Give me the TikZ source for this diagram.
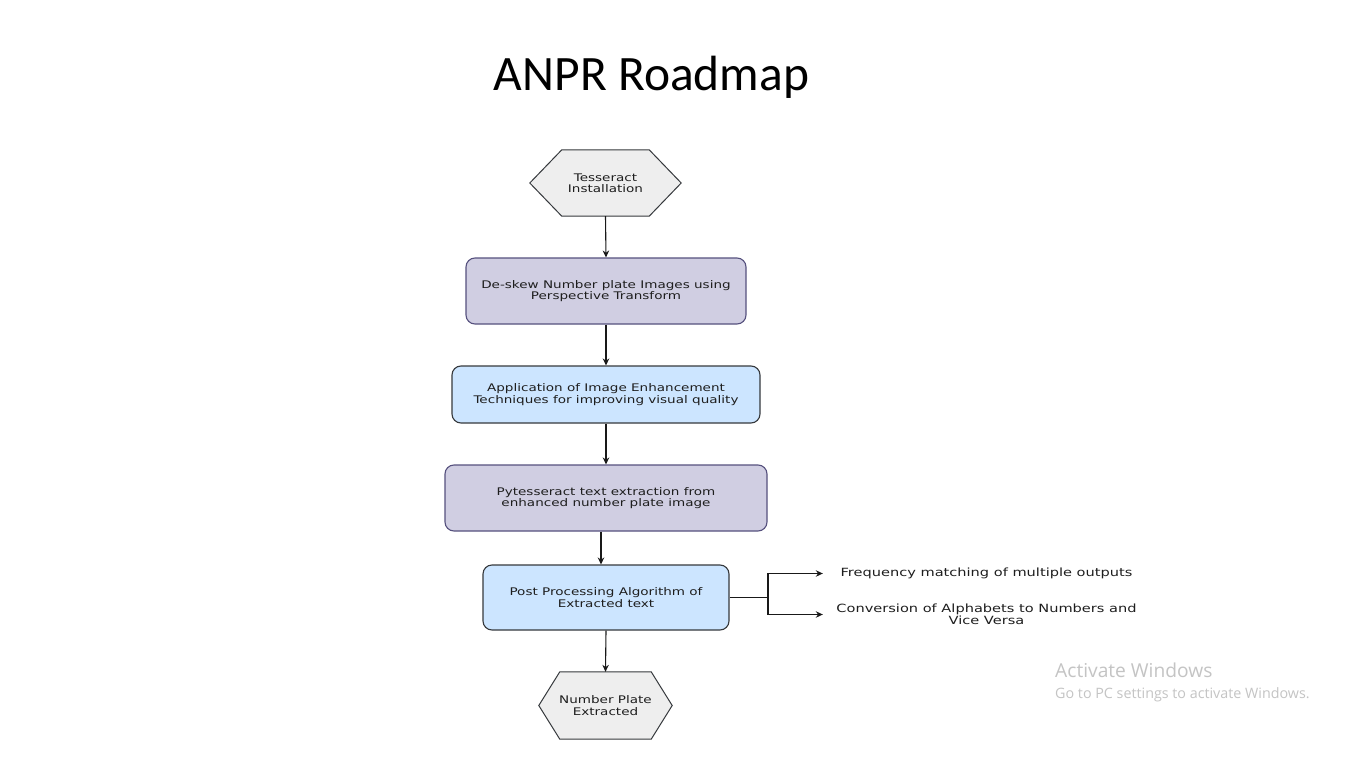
\documentclass[tikz,border=0pt]{standalone}
\usepackage{fontspec}
\setmainfont{DejaVu Sans}
\newfontfamily\diagfont[FakeStretch=1.29]{DejaVu Sans}
\newfontfamily\titlefont{Carlito}
\newfontfamily\wmfont{Open Sans}
\usetikzlibrary{arrows.meta,calc}
\definecolor{lav}{HTML}{D0CEE2}
\definecolor{lavb}{HTML}{56517E}
\definecolor{lblue}{HTML}{CCE5FF}
\definecolor{lblueb}{HTML}{36393D}
\definecolor{hexfill}{HTML}{EEEEEE}
\definecolor{hexb}{HTML}{36393D}
\definecolor{txt}{HTML}{1E1E1E}
\definecolor{wm}{HTML}{C4C4C4}
\tikzset{
  dtext/.style={font=\diagfont\fontsize{10.5}{11.5}\selectfont, text=txt, align=center},
  stext/.style={font=\diagfont\fontsize{11.3}{12}\selectfont, text=txt, align=center, inner sep=0pt, minimum width=327pt},
  lavbox/.style={dtext, draw=lavb, fill=lav, line width=1.1pt, rounded corners=9pt, inner sep=0pt},
  bluebox/.style={dtext, draw=lblueb, fill=lblue, line width=1.1pt, rounded corners=9pt, inner sep=0pt},
  hexnode/.style={dtext, inner sep=0pt},
  hexshape/.style={draw=hexb, fill=hexfill, line width=1pt, line join=miter},
  conn/.style={draw=black!90, line width=1.1pt},
  arr/.style={conn, -{Stealth[length=7pt,width=6.5pt]}},
}
\begin{document}
\begin{tikzpicture}[x=1pt,y=-1pt]
\useasboundingbox (0,0) rectangle (1366,768);
\fill[white] (0,0) rectangle (1366,768);

% title
\node[font=\titlefont\fontsize{49.5}{60}\selectfont, anchor=base, inner sep=0pt] (title) at (651.5,91) {ANPR Roadmap};

% hexagon 1
\node[hexnode, minimum width=151pt, minimum height=66pt] (hex1) at (605.5,183) {};
\path[hexshape] (hex1.west) -- ($(hex1.north west)+(32,0)$) -- ($(hex1.north east)+(-32,0)$)
  -- (hex1.east) -- ($(hex1.south east)+(-32,0)$) -- ($(hex1.south west)+(32,0)$) -- cycle;
\node[hexnode] (hex1t) at (hex1.center) {Tesseract\\Installation};

% boxes
\node[lavbox, minimum width=280pt, minimum height=66pt] (box1) at (606,291) {De-skew Number plate Images using\\Perspective Transform};
\node[bluebox, minimum width=308pt, minimum height=57pt] (box2) at (606,394.5) {Application of Image Enhancement\\Techniques for improving visual quality};
\node[lavbox, minimum width=322pt, minimum height=66pt] (box3) at (606,498) {Pytesseract text extraction from\\enhanced number plate image};
\node[bluebox, minimum width=246pt, minimum height=65pt] (box4) at (606,597.5) {Post Processing Algorithm of\\Extracted text};

% hexagon 2
\node[hexnode, minimum width=133pt, minimum height=67pt] (hex2) at (605.5,705.5) {};
\path[hexshape] (hex2.west) -- ($(hex2.north west)+(21,0)$) -- ($(hex2.north east)+(-21,0)$)
  -- (hex2.east) -- ($(hex2.south east)+(-21,0)$) -- ($(hex2.south west)+(21,0)$) -- cycle;
\node[hexnode] (hex2t) at (hex2.center) {Number Plate\\Extracted};

% side texts
\node[stext] (t1) at (986.5,573.5) {Frequency matching of multiple outputs};
\node[stext] (t2) at (986.5,614.5) {Conversion of Alphabets to Numbers and\\Vice Versa};

% connectors
\draw[arr] (hex1.south) -- (box1.north);
\draw[arr] (box1.south) -- (box2.north);
\draw[arr] (box2.south) -- (box3.north);
\draw[arr] ([xshift=-5pt]box3.south) -- ([xshift=-5pt]box4.north);
\draw[arr] (box4.south) -- (hex2.north);
\coordinate (br) at (768,597.5);
\draw[conn] (box4.east) -- (br);
\draw[arr] (br) |- (t1.west);
\draw[arr] (br) |- (t2.west);

% watermark
\node[font=\wmfont\fontsize{19.2}{21}\selectfont, text=wm, anchor=base west, inner sep=0pt] (wm1) at (1055,677) {Activate Windows};
\node[font=\wmfont\fontsize{14.3}{16}\selectfont, text=wm, anchor=base west, inner sep=0pt] (wm2) at (1055,698) {Go to PC settings to activate Windows.};
\end{tikzpicture}
\end{document}
